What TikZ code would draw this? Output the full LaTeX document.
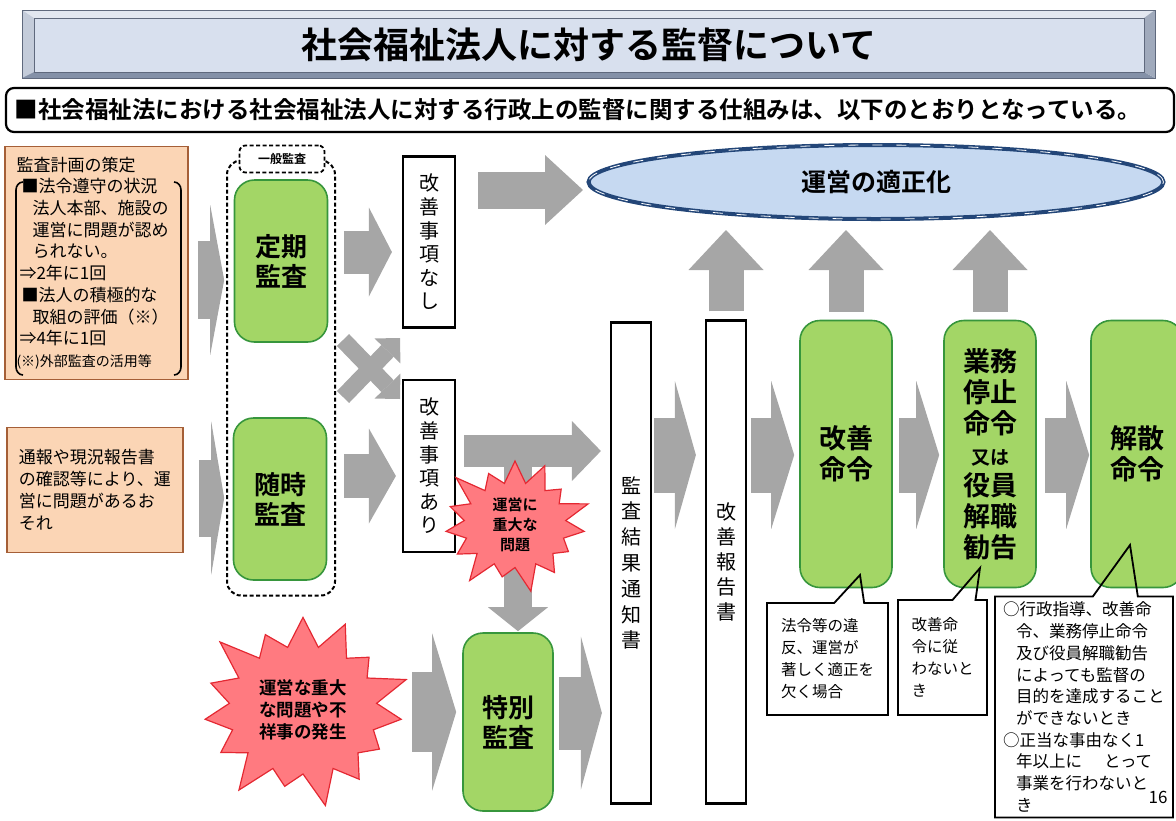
\documentclass[tikz,border=0pt]{standalone}
\usepackage{fontspec}
\setmainfont{Noto Sans CJK JP}[BoldFont={Noto Sans CJK JP Bold}]
\usetikzlibrary{shapes}
\usetikzlibrary{shapes.symbols}
\usetikzlibrary{shapes.callouts}
\usetikzlibrary{arrows.meta}
\usetikzlibrary{positioning}

\definecolor{orgfill}{RGB}{251,213,181}
\definecolor{orgdraw}{RGB}{165,95,55}
\definecolor{grnfill}{RGB}{163,214,102}
\definecolor{grndraw}{RGB}{55,150,60}
\definecolor{arrgray}{RGB}{166,166,166}
\definecolor{burstfill}{RGB}{255,122,128}
\definecolor{burstdraw}{RGB}{228,40,50}
\definecolor{ellfill}{RGB}{198,217,241}
\definecolor{elldraw}{RGB}{35,70,120}
\definecolor{bevtop}{RGB}{226,231,240}
\definecolor{bevleft}{RGB}{196,204,218}
\definecolor{bevbot}{RGB}{132,145,168}
\definecolor{bevright}{RGB}{160,170,188}
\definecolor{bevface}{RGB}{216,224,238}
\definecolor{bevline}{RGB}{95,105,125}

\tikzset{
    mynodeo/.style = {rectangle, line width=1.6pt, draw=orgdraw, fill=orgfill, inner sep=0pt, align=left},
    mynodeg/.style = {rectangle, rounded corners=20pt, line width=1.6pt, draw=grndraw, fill=grnfill, inner sep=0pt, align=center, font=\fontsize{26}{30}\selectfont\bfseries},
    mynodew/.style = {rectangle, line width=2.2pt, draw=black, fill=white, inner sep=0pt, align=center, font=\fontsize{20}{23.6}\selectfont},
    mynoder/.style = {starburst, starburst points=15, starburst point height=30pt, line width=1.2pt, draw=burstdraw, fill=burstfill, inner sep=0pt, align=center},
    mynodec/.style = {rectangle callout, line width=1.8pt, draw=black, inner sep=0pt, align=left},
    mynoded/.style = {rectangle, line width=2pt, draw=black, dash pattern=on 4pt off 2.5pt},
    edgea/.style n args = {3}{draw=arrgray, line width=#1, -{Triangle[width=#2, length=#3, line width=0pt]}},
}

\begin{document}
\begin{tikzpicture}[x=1pt, y=-1pt]
  \useasboundingbox (0,0) rectangle (1176,820);

  % title banner
  \fill[bevtop] (22,10) -- (1155,10) -- (1144,18) -- (34,18) -- cycle;
  \fill[bevleft] (22,10) -- (34,18) -- (34,72) -- (22,78) -- cycle;
  \fill[bevbot] (22,78) -- (34,72) -- (1144,72) -- (1155,78) -- cycle;
  \fill[bevright] (1155,10) -- (1144,18) -- (1144,72) -- (1155,78) -- cycle;
  \draw[bevline, line width=1pt] (22,10) rectangle (1155,78);
  \node[draw=bevline, fill=bevface, line width=0.8pt, minimum width=1110pt, minimum height=54pt, inner sep=0pt, font=\fontsize{36}{40}\selectfont\bfseries] (title) at (589,45) {社会福祉法人に対する監督について};

  \node[draw, line width=2.2pt, rounded corners=8pt, fill=white, minimum width=1168pt, minimum height=44pt, text width=1150pt, inner xsep=5pt, align=left, font=\fontsize{23.5}{26}\selectfont\bfseries] (sub) at (590,110) {■社会福祉法における社会福祉法人に対する行政上の監督に関する仕組みは、以下のとおりとなっている。};

  % left boxes
  \node[mynodeo, minimum width=183pt, minimum height=233pt, text width=160pt, font=\fontsize{17}{21.7}\selectfont] (plan) at (96.5,263) {%
    監査計画の策定\\
    \hspace*{5pt}■法令遵守の状況\\
    \hspace*{16pt}法人本部、施設の\\
    \hspace*{16pt}運営に問題が認め\\
    \hspace*{16pt}られない。\\
    \hspace*{3pt}⇒2年に1回\\
    \hspace*{5pt}■法人の積極的な\\
    \hspace*{16pt}取組の評価（※）\\
    \hspace*{3pt}⇒4年に1回\\
    {\fontsize{14}{16}\selectfont (※)外部監査の活用等}};
  \draw[line width=1.6pt] (23,182) to[out=180,in=90] (16,190) -- (16,367) to[out=-90,in=180] (23,375);
  \draw[line width=1.6pt] (174,182) to[out=0,in=90] (181,190) -- (181,367) to[out=-90,in=0] (174,375);

  \node[mynodeo, minimum width=176pt, minimum height=125pt, text width=152pt, font=\fontsize{17}{22}\selectfont] (report) at (95,490) {通報や現況報告書\\の確認等により、運\\営に問題があるお\\それ};

  % general audit
  \node[mynoded, rounded corners=14pt, minimum width=108pt, minimum height=435pt] (ippan) at (281,378) {};
  \node[mynoded, fill=white, line width=1.8pt, rounded corners=6pt, minimum width=85pt, minimum height=27pt, inner sep=0pt, font=\fontsize{12}{14}\selectfont\bfseries] (ippantab) at (282,159) {一般監査};

  \node[mynodeg, minimum width=93pt, minimum height=162pt] (teiki) at (281,261) {定期\\監査};
  \node[mynodeg, minimum width=93pt, minimum height=162pt] (zuiji) at (280,499) {随時\\監査};
  \node[mynodeg, minimum width=90pt, minimum height=178pt] (tokubetsu) at (508,722) {特別\\監査};

  % documents
  \node[mynodew, minimum width=52pt, minimum height=171pt] (nashi) at (429,242) {改\\善\\事\\項\\な\\し};
  \node[mynodew, minimum width=52pt, minimum height=172pt] (ari) at (429,466) {改\\善\\事\\項\\あ\\り};
  \node[mynodew, minimum width=40pt, minimum height=481pt, font=\fontsize{20}{25.8}\selectfont] (kekka) at (631,563) {監\\査\\結\\果\\通\\知\\書};
  \node[mynodew, minimum width=40pt, minimum height=483pt, font=\fontsize{20}{25}\selectfont] (houkoku) at (726,562) {改\\善\\報\\告\\書};

  \node[ellipse, draw=elldraw, line width=4pt, fill=ellfill, minimum width=575pt, minimum height=74pt, inner sep=0pt, font=\fontsize{25}{28}\selectfont\bfseries, postaction={draw=white, line width=0.8pt, dash pattern=on 10pt off 14pt}] (tekisei) at (876,182) {運営の適正化};

  % orders
  \node[mynodeg, minimum width=92pt, minimum height=267pt, font=\fontsize{27}{31}\selectfont\bfseries] (kaizen) at (846,454) {改善\\命令};
  \node[mynodeg, minimum width=92pt, minimum height=267pt, font=\fontsize{27}{31}\selectfont\bfseries] (gyomu) at (990,454) {業務\\停止\\命令\\{\fontsize{19}{22}\selectfont 又は}\\役員\\解職\\勧告};
  \node[mynodeg, minimum width=92pt, minimum height=267pt, font=\fontsize{27}{31}\selectfont\bfseries] (kaisan) at (1137,454) {解散\\命令};

  % gray arrows
  \draw[edgea={78pt}{150pt}{14pt}, shorten <=9pt, shorten >=9.5pt] ([yshift=-17pt]plan.east) -- ([yshift=-19pt]teiki.west);
  \draw[edgea={77pt}{153pt}{13pt}, shorten <=15pt, shorten >=8.5pt] ([yshift=-8pt]report.east) -- ([yshift=1pt]zuiji.west);
  \draw[edgea={43pt}{89pt}{23pt}, shorten <=15.5pt, shorten >=10pt] ([yshift=9pt]teiki.east) -- ([yshift=-10pt]nashi.west);
  \draw[edgea={44pt}{95pt}{27pt}, shorten <=16.5pt, shorten >=6pt] ([yshift=23pt]zuiji.east) -- ([yshift=-10pt]ari.west);
  \coordinate (xa) at (343,397);
  \coordinate (xb) at (400,338);
  \coordinate (xc) at (343,340);
  \coordinate (xd) at (400,399);
  \draw[edgea={17pt}{36pt}{18pt}] (xa) -- (xb);
  \draw[edgea={17pt}{36pt}{18pt}] (xc) -- (xd);
  \draw[edgea={37pt}{70pt}{38pt}, shorten <=22pt, shorten >=3.5pt] ([yshift=52pt]nashi.east) -- ([yshift=-8pt]tekisei.west);
  \draw[edgea={32pt}{60pt}{29pt}, shorten <=8pt, shorten >=9pt] ([yshift=15pt]ari.east) -- ([yshift=112pt]kekka.west);
  \coordinate (split) at (518,451);
  \draw[edgea={28pt}{60pt}{24pt}, shorten >=1pt] (split) -- ([xshift=10pt]tokubetsu.north);
  \draw[edgea={73pt}{153pt}{21pt}, shorten <=5pt, shorten >=8pt] ([yshift=9pt]tokubetsu.east) -- ([yshift=-150pt]kekka.west);
  \draw[edgea={75pt}{148pt}{21pt}, shorten <=2pt, shorten >=9pt] ([yshift=108pt]kekka.east) -- ([yshift=107pt]houkoku.west);
  \draw[edgea={75pt}{148pt}{23pt}, shorten <=4pt, shorten >=5pt] ([yshift=107pt]houkoku.east) -- ([yshift=-1pt]kaizen.west);
  \draw[edgea={75pt}{148pt}{23pt}, shorten <=6pt, shorten >=4pt] ([yshift=-1pt]kaizen.east) -- ([yshift=-1pt]gyomu.west);
  \draw[edgea={75pt}{148pt}{23pt}, shorten <=8pt, shorten >=1pt] ([yshift=-1pt]gyomu.east) -- ([yshift=-1pt]kaisan.west);
  \foreach \n in {houkoku, kaizen, gyomu}
    \draw[edgea={35pt}{75pt}{40pt}, shorten <=8pt, shorten >=9pt] (\n.north) -- (\n.north |- tekisei.south);

  % bursts
  \node[mynoder, minimum width=162pt, minimum height=145pt, font=\fontsize{15}{20}\selectfont\bfseries] (juudai) at (515,525) {運営に\\重大な\\問題};
  \node[mynoder, minimum width=228pt, minimum height=208pt, starburst point height=40pt, font=\fontsize{17.5}{22}\selectfont\bfseries] (fushouji) at (303,710) {運営な重大\\な問題や不\\祥事の発生};
  \draw[edgea={80pt}{157pt}{24pt}, shorten <=109pt, shorten >=6pt] ([yshift=-2pt]fushouji.center) -- ([yshift=10pt]tokubetsu.west);

  % callouts
  \coordinate (tipa) at (860,575);
  \coordinate (tipb) at (980,568);
  \coordinate (tipc) at (1130,545);
  \node[mynodec, callout absolute pointer={(tipa)}, callout pointer width=30pt, minimum width=121pt, minimum height=112pt, font=\fontsize{15.5}{22}\selectfont] (reia) at (827.5,659) {法令等の違\\反、運営が\\著しく適正を\\欠く場合};
  \node[mynodec, callout absolute pointer={(tipb)}, callout pointer width=23pt, minimum width=89pt, minimum height=115pt, font=\fontsize{15.5}{22}\selectfont] (reib) at (942.5,657.5) {改善命\\令に従\\わないと\\き};
  \node[mynodec, callout absolute pointer={(tipc)}, callout pointer width=45pt, minimum width=178pt, minimum height=221pt, text width=162pt, font=\fontsize{16.5}{21.7}\selectfont] (reic) at (1084,707) {%
    ○行政指導、改善命\\
    \hspace*{13pt}令、業務停止命令\\
    \hspace*{13pt}及び役員解職勧告\\
    \hspace*{13pt}によっても監督の\\
    \hspace*{13pt}目的を達成すること\\
    \hspace*{13pt}ができないとき\\
    ○正当な事由なく1\\
    \hspace*{13pt}年以上に\hspace*{22pt}とって\\
    \hspace*{13pt}事業を行わないと\\
    \hspace*{13pt}き};

  \node[font=\fontsize{17}{20}\selectfont] (pageno) at (1158,797) {16};
\end{tikzpicture}
\end{document}
